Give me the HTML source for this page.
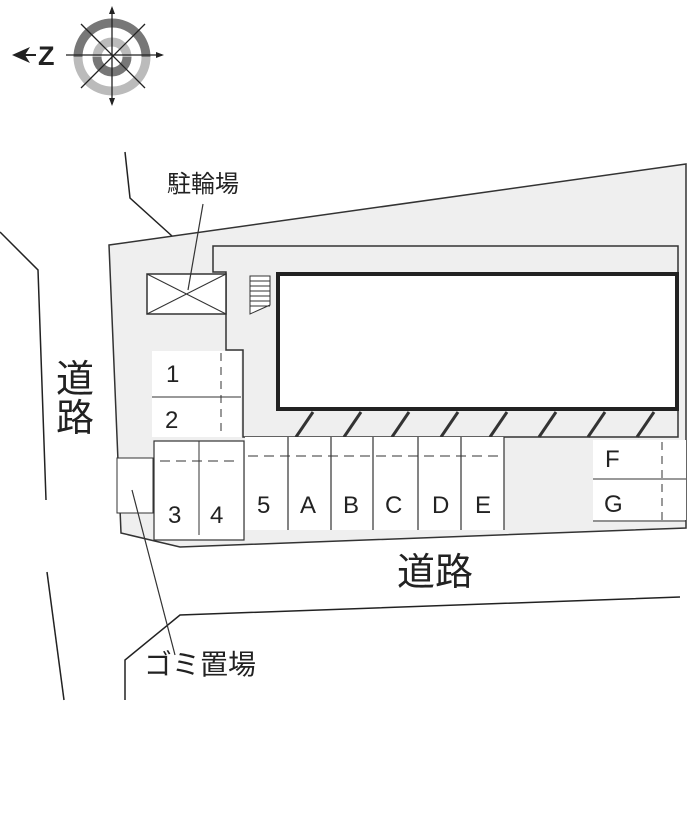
<!DOCTYPE html>
<html><head><meta charset="utf-8"><style>
html,body{margin:0;padding:0;background:#fff}
text{font-family:"Liberation Sans","Noto Sans CJK JP",sans-serif;fill:#222}
</style></head><body>
<svg width="700" height="822" viewBox="0 0 700 822" xmlns="http://www.w3.org/2000/svg">
<g stroke-width="9" fill="none">
<path d="M78,57 A34,34 0 0 1 146,57" stroke="#777"/>
<path d="M78,57 A34,34 0 0 0 146,57" stroke="#bbb"/>
<path d="M97,57 A15,15 0 0 1 127,57" stroke="#bbb"/>
<path d="M97,57 A15,15 0 0 0 127,57" stroke="#777"/>
</g>
<g stroke="#222" stroke-width="1.3">
<line x1="112" y1="8" x2="112" y2="104"/>
<line x1="66" y1="55" x2="162" y2="55"/>
<line x1="81" y1="24" x2="145" y2="88"/>
<line x1="145" y1="24" x2="81" y2="88"/>
</g>
<polygon points="112,6 109,14 115,14" fill="#222"/>
<polygon points="112,106 109,98 115,98" fill="#222"/>
<polygon points="164,55 156,52 156,58" fill="#222"/>
<polygon points="12,55 30,47 25,55 30,63" fill="#222"/>
<line x1="25" y1="55" x2="36" y2="55" stroke="#222" stroke-width="2"/>
<text x="38" y="65" font-size="27" font-weight="bold">Z</text>
<g stroke="#222" stroke-width="1.5" fill="none">
<polyline points="0,232 38,270 46,500"/>
<polyline points="125,152 130,198 172,236"/>
<polyline points="47,572 64,700"/>
<polyline points="680,597 180,615 125,660 125,700"/>
</g>
<polygon points="109,245 686,164 686,528 180,547 121,533" fill="#efefef" stroke="#333" stroke-width="1.5"/>
<rect x="117" y="458" width="36" height="55" fill="#fff" stroke="#333" stroke-width="1"/>
<polygon points="213,246 678,246 678,437 243,437 243,350 226,350 226,272 213,272" fill="#efefef" stroke="#333" stroke-width="1.5"/>
<rect x="147" y="274" width="79" height="40" fill="#fff" stroke="#333" stroke-width="1.5"/>
<line x1="147" y1="274" x2="226" y2="314" stroke="#333"/>
<line x1="226" y1="274" x2="147" y2="314" stroke="#333"/>
<g stroke="#333" stroke-width="1">
<polygon points="250,276 270,276 270,305 250,314" fill="#fff"/>
<line x1="250" y1="281" x2="270" y2="281"/><line x1="250" y1="286" x2="270" y2="286"/><line x1="250" y1="291" x2="270" y2="291"/><line x1="250" y1="296" x2="270" y2="296"/><line x1="250" y1="301" x2="270" y2="301"/><line x1="250" y1="306" x2="270" y2="306"/>
</g>
<rect x="278" y="274" width="399" height="135" fill="#fff" stroke="#222" stroke-width="4"/>
<g stroke="#333" stroke-width="3">
<line x1="313" y1="412" x2="296" y2="437"/><line x1="361" y1="412" x2="344" y2="437"/><line x1="409" y1="412" x2="392" y2="437"/><line x1="458" y1="412" x2="441" y2="437"/><line x1="507" y1="412" x2="490" y2="437"/><line x1="556" y1="412" x2="539" y2="437"/><line x1="605" y1="412" x2="588" y2="437"/><line x1="654" y1="412" x2="637" y2="437"/>
</g>
<rect x="152" y="351" width="89" height="86" fill="#fff"/>
<line x1="152" y1="397" x2="241" y2="397" stroke="#333"/>
<line x1="221" y1="353" x2="221" y2="437" stroke="#333" stroke-dasharray="8,6"/>
<rect x="154" y="441" width="90" height="99" fill="#fff" stroke="#333" stroke-width="1.2"/>
<line x1="199" y1="441" x2="199" y2="535" stroke="#333"/>
<line x1="160" y1="461" x2="240" y2="461" stroke="#333" stroke-dasharray="10,6"/>
<rect x="245" y="437" width="259" height="93" fill="#fff"/>
<g stroke="#333" stroke-width="1.2">
<line x1="288" y1="437" x2="288" y2="530"/><line x1="331" y1="437" x2="331" y2="530"/><line x1="373" y1="437" x2="373" y2="530"/><line x1="418" y1="437" x2="418" y2="530"/><line x1="461" y1="437" x2="461" y2="530"/><line x1="504" y1="437" x2="504" y2="530"/>
</g>
<line x1="248" y1="456" x2="500" y2="456" stroke="#333" stroke-dasharray="10,6"/>
<rect x="593" y="440" width="93" height="80" fill="#fff"/>
<line x1="593" y1="479" x2="686" y2="479" stroke="#333"/>
<line x1="593" y1="521" x2="686" y2="521" stroke="#333"/>
<line x1="662" y1="442" x2="662" y2="520" stroke="#333" stroke-dasharray="8,6"/>
<g font-size="24">
<text x="166" y="382">1</text><text x="165" y="428">2</text>
<text x="168" y="523">3</text><text x="210" y="523">4</text>
<text x="257" y="513">5</text><text x="300" y="513">A</text><text x="343" y="513">B</text>
<text x="385" y="513">C</text><text x="432" y="513">D</text><text x="475" y="513">E</text>
<text x="605" y="467">F</text><text x="604" y="512">G</text>
</g>
<text x="167" y="192" font-size="24">駐輪場</text>
<line x1="203" y1="204" x2="188" y2="290" stroke="#333" stroke-width="1.2"/>
<text x="144" y="674" font-size="28">ゴミ置場</text>
<line x1="132" y1="490" x2="175" y2="655" stroke="#333" stroke-width="1.2"/>
<text x="397" y="585" font-size="38">道路</text>
<text x="56" y="392" font-size="38">道</text>
<text x="56" y="431" font-size="38">路</text>
</svg>
</body></html>
